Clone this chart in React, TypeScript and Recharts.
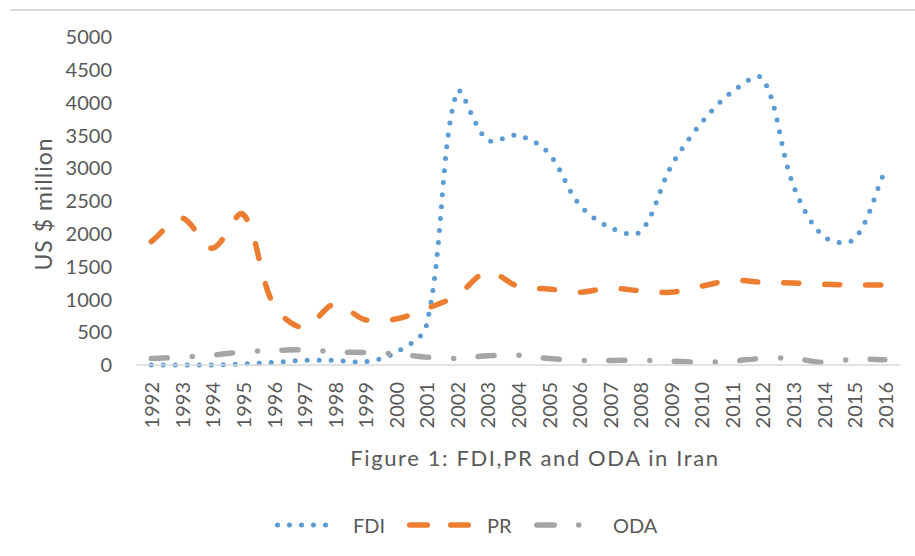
import React from "react";
import { LineChart, Line, XAxis, YAxis, Legend } from "recharts";

const years = [
  "1992", "1993", "1994", "1995", "1996", "1997", "1998", "1999", "2000",
  "2001", "2002", "2003", "2004", "2005", "2006", "2007", "2008", "2009",
  "2010", "2011", "2012", "2013", "2014", "2015", "2016",
];
const fdi = [
  0, 0, 0, 15, 40, 70, 70, 50, 190, 600, 4160, 3430, 3500, 3230, 2450, 2100,
  2030, 3020, 3690, 4160, 4370, 2750, 1960, 1920, 2950,
];
const pr = [
  1880, 2240, 1780, 2300, 920, 570, 930, 690, 700, 860, 1060, 1420, 1200, 1160,
  1110, 1170, 1130, 1110, 1200, 1290, 1260, 1250, 1230, 1220, 1220,
];
const oda = [
  100, 120, 150, 200, 220, 230, 200, 190, 170, 120, 100, 140, 150, 100, 70, 70,
  70, 60, 40, 60, 100, 100, 40, 90, 80,
];
const yTicks = [0, 500, 1000, 1500, 2000, 2500, 3000, 3500, 4000, 4500, 5000];

const data = years.map((year, i) => ({
  year,
  FDI: fdi[i],
  PR: pr[i],
  ODA: oda[i],
}));

const FONT = "Lato, 'Open Sans', sans-serif";
const TEXT = "#595959";

// excel-ish smoothing: bezier through every point, control arms weighted by
// the neighbouring segment lengths so short segments don't overshoot
function excelSmooth(context: any) {
  let pts: number[][] = [];
  const dist = (a: number[], b: number[]) => Math.hypot(b[0] - a[0], b[1] - a[1]);
  return {
    areaStart() {},
    areaEnd() {},
    lineStart() {
      pts = [];
    },
    point(x: number, y: number) {
      pts.push([+x, +y]);
    },
    lineEnd() {
      const n = pts.length;
      if (!n) return;
      // arms[i] = [in, out] vectors at point i
      const arms = pts.map((p, i) => {
        const p0 = pts[i - 1] || p;
        const p2 = pts[i + 1] || p;
        const d01 = dist(p0, p);
        const d12 = dist(p, p2);
        const s = d01 + d12 || 1;
        const tx = p2[0] - p0[0];
        const ty = p2[1] - p0[1];
        const wi = (d01 / s) / 3;
        const wo = (d12 / s) / 3;
        return [
          [-tx * wi, -ty * wi],
          [tx * wo, ty * wo],
        ];
      });
      context.moveTo(pts[0][0], pts[0][1]);
      for (let i = 0; i < n - 1; i++) {
        const a = pts[i];
        const b = pts[i + 1];
        context.bezierCurveTo(
          a[0] + arms[i][1][0],
          a[1] + arms[i][1][1],
          b[0] + arms[i + 1][0][0],
          b[1] + arms[i + 1][0][1],
          b[0],
          b[1]
        );
      }
    },
  };
}

const YearTick = ({ x, y, payload }: any) => (
  <text
    transform={`translate(${x},${y}) rotate(-90)`}
    textAnchor="end"
    dominantBaseline="central"
    fill={TEXT}
    fontSize={20}
    fontFamily={FONT}
  >
    {payload.value}
  </text>
);

const YLabel = ({ viewBox }: any) => {
  const cx = viewBox.x + 43;
  const cy = viewBox.y + viewBox.height / 2 + 3;
  return (
    <text
      x={cx}
      y={cy}
      transform={`rotate(-90, ${cx}, ${cy})`}
      textAnchor="middle"
      dominantBaseline="central"
      fill={TEXT}
      fontSize={23}
      letterSpacing={1}
      fontFamily={FONT}
    >
      US $ million
    </text>
  );
};

const TitleLabel = ({ viewBox }: any) => (
  <text
    x={viewBox.x + viewBox.width / 2 + 17}
    y={viewBox.y + 101}
    textAnchor="middle"
    fill={TEXT}
    fontSize={22}
    letterSpacing={1.6}
    fontFamily={FONT}
  >
    Figure 1: FDI,PR and ODA in Iran
  </text>
);

const LegendBox = () => {
  const txt: React.CSSProperties = {
    position: "absolute",
    top: 7,
    fontSize: 20,
    fontFamily: FONT,
    color: TEXT,
    lineHeight: "26px",
  };
  return (
    <div style={{ position: "relative", width: 915, height: 40 }}>
      <svg width={64} height={10} style={{ position: "absolute", left: 275, top: 15 }}>
        <line x1={2.5} y1={5} x2={62} y2={5} stroke="#5B9BD5" strokeWidth={5} strokeDasharray="0 12" strokeLinecap="round" />
      </svg>
      <span style={{ ...txt, left: 353 }}>FDI</span>
      <svg width={64} height={10} style={{ position: "absolute", left: 407, top: 15 }}>
        <line x1={2.75} y1={5} x2={61.25} y2={5} stroke="#ED7D31" strokeWidth={5.5} strokeDasharray="17.5 23.5" strokeLinecap="round" />
      </svg>
      <span style={{ ...txt, left: 487 }}>PR</span>
      <svg width={50} height={10} style={{ position: "absolute", left: 534, top: 15 }}>
        <line x1={2.75} y1={5} x2={45} y2={5} stroke="#A5A5A5" strokeWidth={5.5} strokeDasharray="17.5 24.5 0 100" strokeLinecap="round" />
      </svg>
      <span style={{ ...txt, left: 613 }}>ODA</span>
    </div>
  );
};

export default function App() {
  return (
    <div style={{ position: "absolute", left: 0, top: 0, width: 915, height: 556, background: "#fff" }}>
      <div
        style={{
          position: "absolute",
          left: 10,
          top: 9,
          width: 905,
          borderTop: "2px solid #d9d9d9",
        }}
      />
      <LineChart
        width={915}
        height={556}
        data={data}
        margin={{ top: 37, right: 15, left: 0, bottom: 11 }}
      >
        <XAxis
          dataKey="year"
          interval={0}
          height={140}
          padding={{ left: 15.28, right: 15.28 }}
          axisLine={{ stroke: "#d9d9d9", strokeWidth: 1.5 }}
          tickLine={false}
          tickSize={0}
          tickMargin={17}
          tick={<YearTick />}
          label={<TitleLabel />}
        />
        <YAxis
          width={136}
          domain={[0, 5000]}
          ticks={yTicks}
          interval={0}
          axisLine={false}
          tickLine={false}
          tickSize={0}
          tickMargin={24}
          tick={{ fill: TEXT, fontSize: 20, fontFamily: FONT }}
          label={<YLabel />}
        />
        <Legend
          verticalAlign="bottom"
          height={40}
          wrapperStyle={{ left: 0, bottom: 11, width: 915 }}
          content={() => <LegendBox />}
        />
        <Line
          dataKey="FDI"
          type={excelSmooth as any}
          stroke="#5B9BD5"
          strokeWidth={5}
          strokeDasharray="0 12"
          strokeLinecap="round"
          dot={false}
          activeDot={false}
          isAnimationActive={false}
        />
        <Line
          dataKey="PR"
          type={excelSmooth as any}
          stroke="#ED7D31"
          strokeWidth={5.5}
          strokeDasharray="15 26"
          strokeLinecap="round"
          dot={false}
          activeDot={false}
          isAnimationActive={false}
        />
        <Line
          dataKey="ODA"
          type={excelSmooth as any}
          stroke="#A5A5A5"
          strokeWidth={5.5}
          strokeDasharray="16 25 0 24.5"
          strokeLinecap="round"
          dot={false}
          activeDot={false}
          isAnimationActive={false}
        />
      </LineChart>
    </div>
  );
}
